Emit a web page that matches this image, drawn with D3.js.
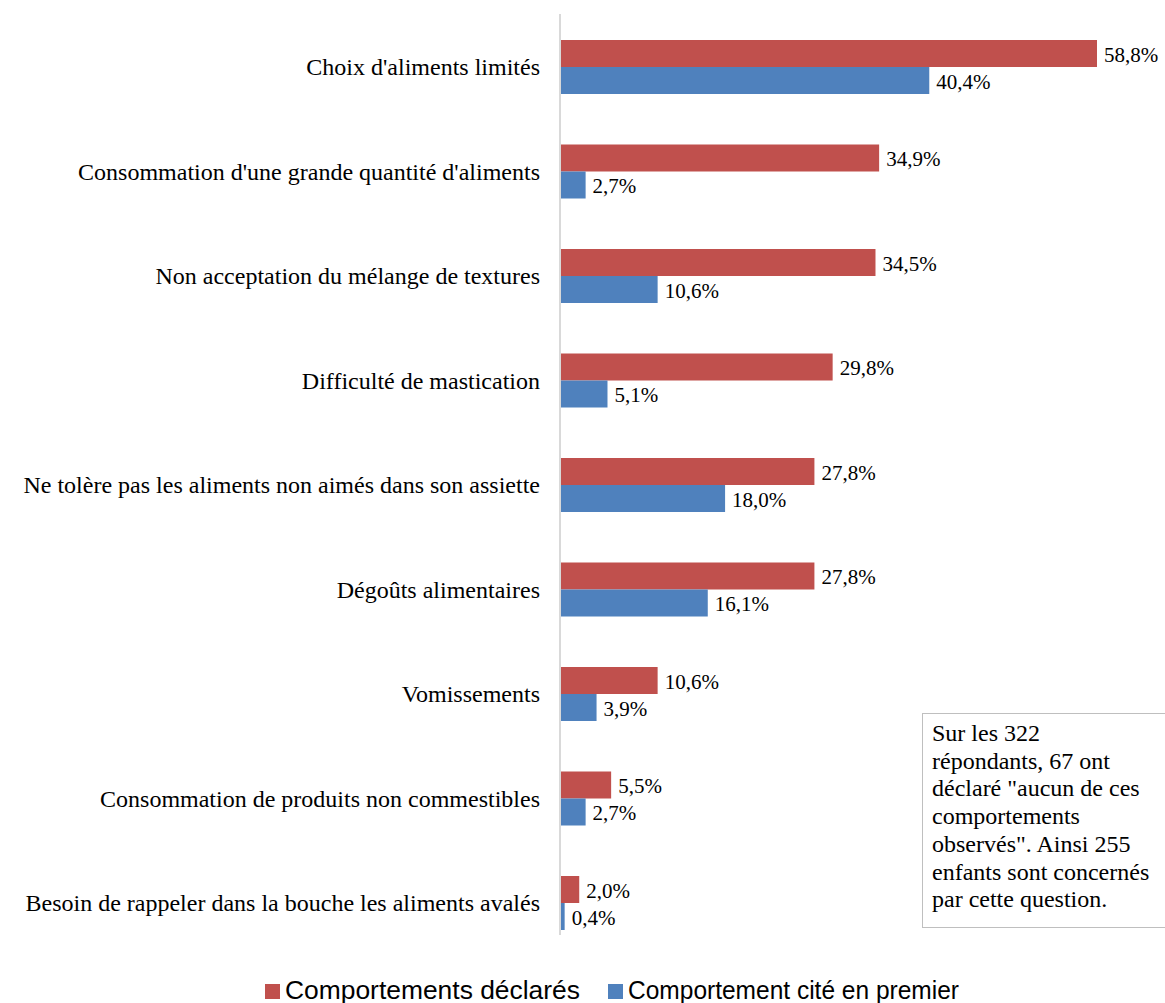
<!DOCTYPE html>
<html>
<head>
<meta charset="utf-8">
<style> body { margin: 0; background: #fff; } </style>
<script src="https://cdn.jsdelivr.net/npm/d3@7"></script>
</head>
<body>
<div id="chart"></div>
<script>
var categories = [
    "Choix d'aliments limités",
    "Consommation d'une grande quantité d'aliments",
    "Non acceptation du mélange de textures",
    "Difficulté de mastication",
    "Ne tolère pas les aliments non aimés dans son assiette",
    "Dégoûts alimentaires",
    "Vomissements",
    "Consommation de produits non commestibles",
    "Besoin de rappeler dans la bouche les aliments avalés"
];
var declared = [58.8, 34.9, 34.5, 29.8, 27.8, 27.8, 10.6, 5.5, 2.0];
var first = [40.4, 2.7, 10.6, 5.1, 18.0, 16.1, 3.9, 2.7, 0.4];
var seriesNames = ["Comportements déclarés", "Comportement cité en premier"];
var colors = ["#C0504D", "#4F81BD"];
var noteLines = [
    "Sur les 322",
    "répondants, 67 ont",
    "déclaré \"aucun de ces",
    "comportements",
    "observés\". Ainsi 255",
    "enfants sont concernés",
    "par cette question."
];

var W = 1165, H = 1003;
var serif = "'Liberation Serif'";
var sans = "'Liberation Sans'";

var svg = d3.select("#chart").append("svg")
    .attr("width", W)
    .attr("height", H);

var x = d3.scaleLinear()
    .domain([0, 58.8])
    .range([561, 1097]);

var y = d3.scaleBand()
    .domain(categories)
    .range([14.75, 955.25])
    .padding(0);

var barH = 27;
var fmt = function(v) { return d3.format(".1f")(v).replace(".", ",") + "%"; };

// axis line
svg.append("line")
    .attr("x1", 560).attr("x2", 560)
    .attr("y1", 14).attr("y2", 935)
    .attr("stroke", "#d9d9d9")
    .attr("stroke-width", 2);

svg.selectAll(".cat")
    .data(categories)
    .enter().append("text")
    .attr("class", "cat")
    .attr("x", 540)
    .attr("y", d => y(d) + y.bandwidth() / 2 + 8)
    .attr("text-anchor", "end")
    .style("font-family", serif)
    .attr("font-size", 24)
    .attr("fill", "#000")
    .text(d => d);

[declared, first].forEach(function(vals, s) {
    var g = svg.append("g");
    g.selectAll("rect")
        .data(vals)
        .enter().append("rect")
        .attr("x", x(0))
        .attr("y", (d, i) => y(categories[i]) + y.bandwidth() / 2 - barH + s * barH)
        .attr("width", d => x(d) - x(0))
        .attr("height", barH)
        .attr("fill", colors[s]);
    g.selectAll("text")
        .data(vals)
        .enter().append("text")
        .attr("x", d => x(d) + 7)
        .attr("y", (d, i) => y(categories[i]) + y.bandwidth() / 2 - barH / 2 + s * barH + 8)
        .style("font-family", serif)
        .attr("font-size", 21)
        .attr("fill", "#000")
        .text(d => fmt(d));
});

// note box
var note = svg.append("g");
note.append("rect")
    .attr("x", 922.5).attr("y", 713.5)
    .attr("width", 250).attr("height", 214)
    .attr("fill", "#fff")
    .attr("stroke", "#bfbfbf");
note.selectAll("text")
    .data(noteLines)
    .enter().append("text")
    .attr("x", 932)
    .attr("y", (d, i) => 741 + i * 27.7)
    .style("font-family", serif)
    .attr("font-size", 24)
    .attr("fill", "#000")
    .text(d => d);

// legend
var legX = [265, 608];
var legW = [295, 331];
var leg = svg.selectAll(".leg")
    .data(seriesNames)
    .enter().append("g")
    .attr("class", "leg")
    .attr("transform", (d, i) => "translate(" + legX[i] + ",0)");
leg.append("rect")
    .attr("x", 0).attr("y", 984)
    .attr("width", 15).attr("height", 15)
    .attr("fill", (d, i) => colors[i]);
leg.append("text")
    .attr("x", 20).attr("y", 999)
    .attr("textLength", (d, i) => legW[i])
    .attr("lengthAdjust", "spacingAndGlyphs")
    .style("font-family", sans)
    .attr("font-size", 25)
    .attr("fill", "#000")
    .text(d => d);
</script>
</body>
</html>
